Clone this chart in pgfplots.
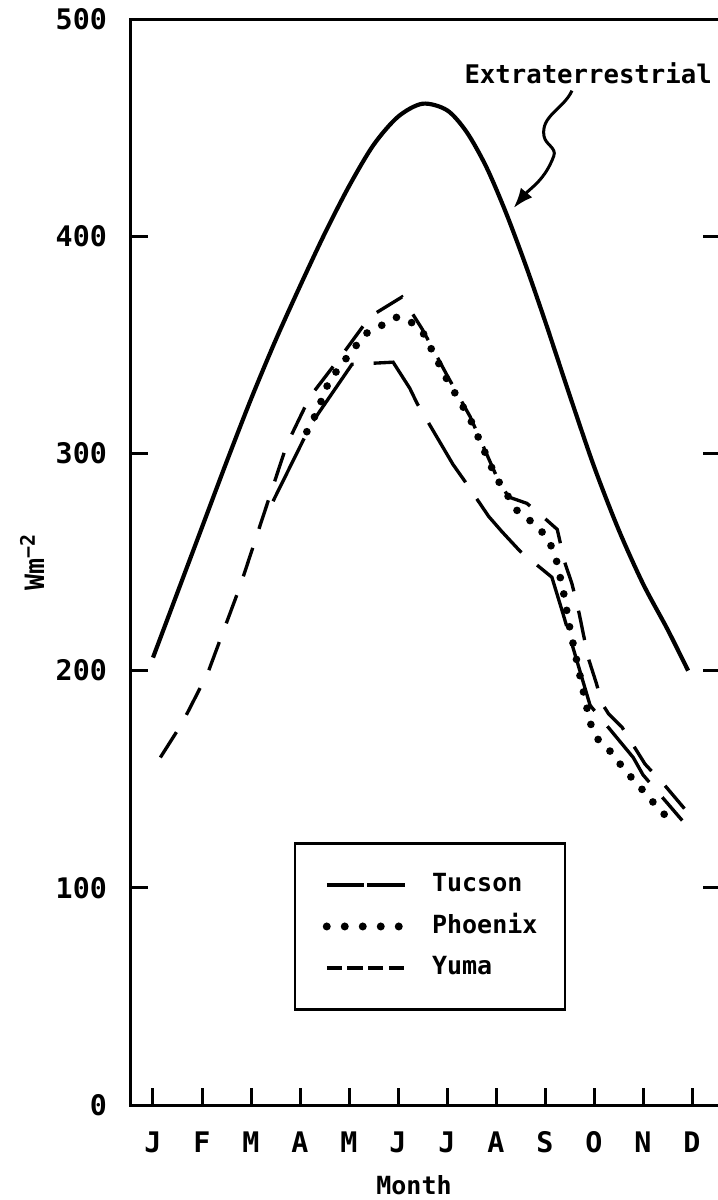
\documentclass[border=0pt]{standalone}
\usepackage{fontspec}
\setmainfont{DejaVu Sans Mono}
\usepackage{pgfplots}
\pgfplotsset{compat=1.18}
\usetikzlibrary{arrows.meta}

\begin{document}
\begin{tikzpicture}
\begin{axis}[
  at={(0,0)}, anchor=south west,
  scale only axis, width=176.7pt, height=325.8pt,
  xmin=-0.449, xmax=11.571, ymin=0, ymax=500,
  axis line style={line width=0.9pt},
  xtick={0,...,11}, xticklabels={J,F,M,A,M,J,J,A,S,O,N,D},
  xtick pos=bottom, ytick pos=both,
  ytick={0,100,...,500},
  tick align=inside, major tick length=5pt,
  tick style={line width=0.9pt, black},
  /pgf/number format/assume math mode=true,
  ticklabel style={font=\bfseries\fontsize{8.5}{10}\selectfont},
  xticklabel style={yshift=-4.4pt},
  yticklabel style={xshift=-3.7pt},
  xlabel={Month}, ylabel={Wm\textsuperscript{−2}},
  every axis x label/.style={at={(axis description cs:0.4805,-0.0737)}, anchor=center, font=\bfseries\fontsize{7.5}{9}\selectfont},
  every axis y label/.style={at={(axis description cs:-0.168,0.5)}, anchor=center, rotate=90, font=\bfseries\fontsize{8}{9}\selectfont},
  legend image code/.code={\draw[#1] (0pt,0pt) -- (23.4pt,0pt);},
  legend style={draw=none, fill=none, at={(axis cs:5.655,82.2)}, anchor=center,
    font=\bfseries\fontsize{7.5}{9}\selectfont, row sep=5.45pt, column sep=7pt,
    nodes={inner sep=0pt, text height=5.5pt, text depth=1.5pt}},
  legend cell align=left,
]
% extraterrestrial
\addplot[black, line width=1.25pt, smooth, forget plot] coordinates {
  (0,206) (0.5,236) (1,266) (1.5,296) (2,325) (2.5,352) (3,377) (3.5,401)
  (4,423) (4.5,442) (5,455) (5.5,461) (6,458) (6.4,448) (6.8,432) (7.2,411)
  (7.6,387) (8,361) (8.5,327) (9,294) (9.5,265) (10,240) (10.5,219) (10.92,200)
};
% Tucson
\addplot[black, line width=1pt, dash pattern=on 21pt off 6pt, forget plot] coordinates {
  (2.45,278) (3.24,314) (4.06,341) (4.9,342) (5.24,330) (5.39,323) (6.12,295)
  (6.37,287) (6.85,271) (7.12,264) (7.49,255) (8.14,243) (8.37,226) (8.5,216)
  (8.92,184) (9.8,160) (10.0,152) (10.8,131)
};
% Phoenix
\addplot[black, line width=2.3pt, line cap=round, dash pattern=on 0pt off 5pt, forget plot] coordinates {
  (3.14,310) (3.3,317) (3.45,325) (3.57,332) (3.78,339) (4.33,355) (4.67,359)
  (5.0,363) (5.3,360) (5.5,356) (6.0,334) (6.47,316) (7.0,289) (7.45,273)
  (7.76,268) (8.06,261) (8.22,252) (8.37,237) (8.51,219) (8.92,176) (9.09,168)
  (9.37,162) (9.63,154) (9.88,148) (10.14,141) (10.39,135) (10.65,128)
};
% Yuma
\addplot[black, line width=1pt, dash pattern=on 9pt off 6pt, forget plot] coordinates {
  (0.15,160) (0.6,176) (1.12,199) (1.78,239) (2.29,274) (2.73,304) (3.2,326)
  (3.88,346) (4.43,363) (5.08,372) (5.5,357) (6.0,336) (6.47,317) (7.0,290)
  (7.25,280) (7.63,277) (7.95,271) (8.25,265) (8.4,250) (8.55,240) (8.7,226)
  (8.88,206) (9.05,194) (9.16,185) (9.3,180) (9.57,174) (10.04,157) (10.45,147)
  (10.9,135)
};
\addlegendimage{black, line width=1.1pt, dash pattern=on 11.2pt off 1pt}
\addlegendentry{Tucson}
\addlegendimage{black, line width=2.4pt, line cap=round, dash pattern=on 0pt off 5.4pt}
\addlegendentry{Phoenix}
\addlegendimage{black, line width=1.1pt, dash pattern=on 4.6pt off 1.6pt}
\addlegendentry{Yuma}
\draw[line width=0.8pt] (axis cs:2.9,120.4) rectangle (axis cs:8.41,44);
\node[font=\bfseries\fontsize{7.7}{9}\selectfont] at (axis cs:8.88,475) {Extraterrestrial};
\draw[line width=0.9pt, -{Latex[length=6pt,width=4.5pt]}]
  (axis cs:8.55,467) to[out=-115,in=100] (axis cs:7.98,446)
  to[out=-80,in=70] (axis cs:8.18,437) to[out=-110,in=50] (axis cs:7.36,413);
\end{axis}
\pgfresetboundingbox
\path[use as bounding box] (-39.3pt,-28.5pt) rectangle (175.8pt,331.5pt);
\end{tikzpicture}
\end{document}
